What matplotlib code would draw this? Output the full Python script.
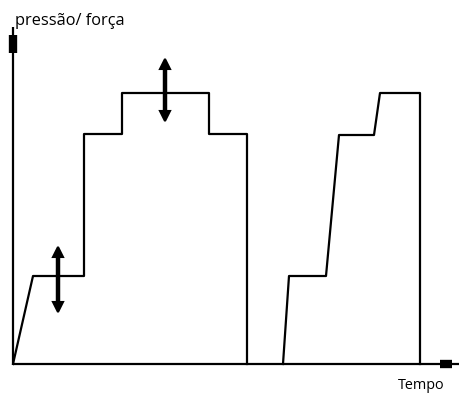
import matplotlib
matplotlib.use("Agg")
import matplotlib.pyplot as plt

# Pressure/force profile (time units, pressure units)
t1 = [0, 20, 71, 71, 109, 109, 196, 196, 234, 234]
p1 = [0, 88, 88, 230, 230, 271, 271, 230, 230, 0]
t2 = [270, 276, 313, 326, 361, 367, 407, 407]
p2 = [0, 88, 88, 229, 229, 271, 271, 0]

# Tolerance arrows: (time, low, high)
arrow_t = [45, 152]
arrow_lo = [52, 243]
arrow_hi = [117, 305]

xlabel = "Tempo"
ylabel = "pressão/ força"

fig = plt.figure(figsize=(4.6, 3.94), dpi=100)
ax = fig.add_axes([0, 0, 1, 1])
ax.set_xlim(-13, 447)
ax.set_ylim(-30, 364)
ax.axis("off")

lw = 1.6
# axes
ax.plot([0, 0], [0, 337], color="black", lw=lw, solid_capstyle="butt")
ax.plot([0, 0], [311, 329], color="black", lw=6, solid_capstyle="butt")
ax.plot([0, 447], [0, 0], color="black", lw=lw, solid_capstyle="butt")
ax.plot([427, 439], [0, 0], color="black", lw=6, solid_capstyle="butt")

ax.plot(t1, p1, color="black", lw=lw)
ax.plot(t2, p2, color="black", lw=lw)

for t, lo, hi in zip(arrow_t, arrow_lo, arrow_hi):
    ax.plot([t, t], [lo + 4, hi - 4], color="black", lw=3.2, solid_capstyle="butt")
    ax.plot([t], [hi - 5], marker="^", color="black", markersize=7.5, markeredgewidth=1.5)
    ax.plot([t], [lo + 5], marker="v", color="black", markersize=7.5, markeredgewidth=1.5)

fam = ["Open Sans", "DejaVu Sans"]
ax.text(2, 339, ylabel, fontsize=11.8, family=fam, ha="left", va="baseline")
ax.text(385, -25, xlabel, fontsize=10.4, family=fam, ha="left", va="baseline")

fig.savefig("out.png", dpi=100)
